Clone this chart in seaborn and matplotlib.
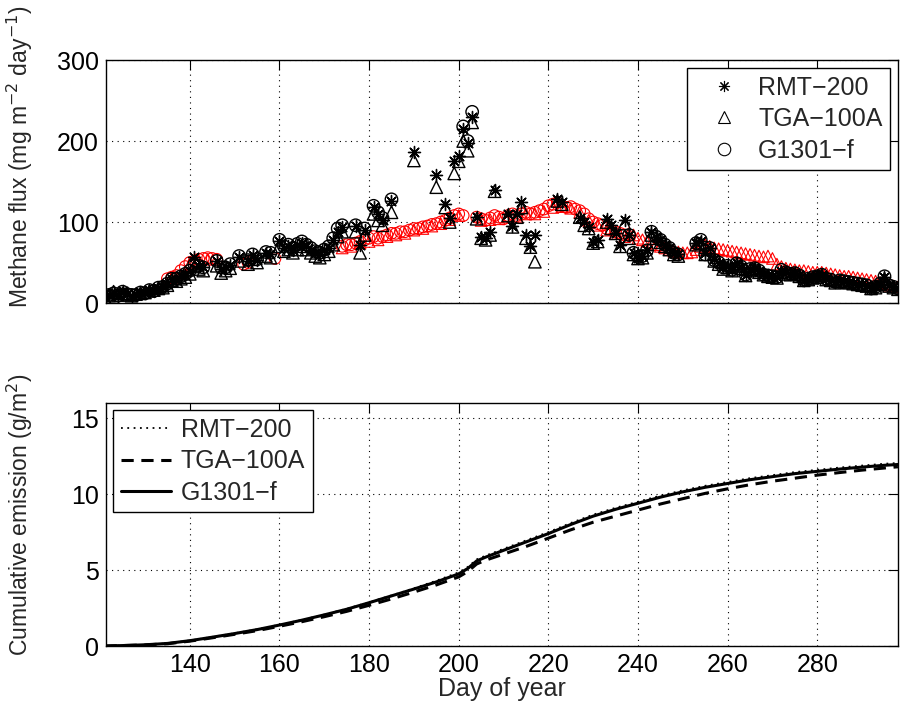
import numpy as np
import pandas as pd
import matplotlib
matplotlib.use("Agg")
import matplotlib.pyplot as plt
from matplotlib.lines import Line2D
import seaborn as sns

sns.set_theme(style="white")
plt.rcParams['font.family'] = ['Liberation Sans', 'DejaVu Sans']

nan = np.nan
# ---------------- measured (black) daily flux, mg m-2 day-1 ----------------
meas_day = [121, 122, 123, 124, 125, 126, 127, 128, 129, 130, 131, 132, 133, 134, 135, 136, 137, 138, 139, 140,
            141, 142, 143, 146, 147, 148, 149, 151, 153, 154, 155, 157, 158, 160, 161, 162, 163, 164, 165, 166,
            167, 168, 169, 170, 171, 172, 173, 174, 177, 178, 179, 181, 182, 183, 185, 190, 195, 197, 198, 199,
            200, 201, 202, 203, 204, 205, 206, 207, 208, 211, 212, 213, 214, 215, 216, 217, 222, 223, 227, 228,
            229, 230, 231, 233, 234, 235, 236, 237, 238, 239, 240, 241, 242, 243, 244, 245, 246, 247, 248, 249,
            253, 254, 255, 256, 257, 258, 259, 260, 261, 262, 263, 264, 265, 266, 267, 268, 269, 270, 271, 272,
            273, 274, 275, 276, 277, 278, 279, 280, 281, 282, 283, 284, 285, 286, 287, 288, 289, 290, 291, 292,
            293, 294, 295, 296, 297, 298]
rmt_meas = [8, 10, 12, 9, 15, 11, 9, 10, 13, 12, 16, 15, 19, 20, 24, 30, 29, 33, 35, 40,
            57, 46, 44, 52, 42, 44, 47, 57, 52, 59, 53, 62, 60, 76, 68, 70, 66, 72, 74, 70,
            66, 62, 60, 65, 68, 78, 88, 94, 95, 72, 90, 118, 110, 103, 126, 186, 158, 122, 105, 175,
            182, 215, 198, 230, 106, 82, 80, 88, 140, 110, 95, 110, 125, 84, 70, 84, 128, 125, 105, 100,
            94, 75, 78, 104, 96, 86, 72, 102, 84, 62, 56, 58, 65, 88, 82, 78, 72, 68, 62, 60,
            74, 76, 62, 68, 54, 50, 44, 46, 41, 49, 45, 35, 42, 43, 40, 36, 34, 33, 32, 40,
            38, 36, 37, 34, 29, 30, 32, 33, 35, 30, 29, 26, 28, 27, 26, 25, 24, 23, 22, 19,
            20, 24, 32, 22, 20, 18]
tga_meas = [7, 9, 14, 10, 12, 10, 9, 11, 12, 13, 15, 16, 18, 19, 22, 28, 27, 30, 32, 36,
            45, 42, 40, 46, 37, 40, 43, 52, 48, 54, 50, 58, 56, 70, 64, 66, 62, 66, 70, 66,
            62, 58, 56, 60, 64, 72, 82, 88, 88, 62, 84, 110, 102, 96, 112, 176, 143, 118, 100, 160,
            175, 200, 188, 223, 104, 80, 78, 84, 138, 108, 94, 106, 118, 80, 69, 51, 126, 122, 106, 96,
            92, 74, 76, 100, 92, 86, 70, 98, 80, 60, 55, 56, 62, 84, 80, 75, 70, 66, 60, 58,
            72, 74, 60, 66, 52, 48, 42, 44, 40, 47, 43, 34, 40, 42, 38, 35, 33, 32, 31, 38,
            36, 35, 36, 33, 28, 29, 31, 32, 34, 29, 28, 25, 27, 26, 25, 24, 23, 22, 21, 18,
            19, 23, 30, 21, 19, 17]
g_meas = [9, 10, 12, 9, 14, 11, 10, 10, 13, 12, 16, 15, 19, 20, 24, 30, 30, 33, 36, 40,
          48, 46, 44, 52, 44, 44, 48, 58, 53, 60, 54, 63, 62, 78, 70, 72, 68, 73, 76, 72,
          68, 64, 62, 66, 70, 80, 92, 96, 96, nan, 92, 120, 112, 105, 128, nan, nan, nan, nan, nan,
          nan, 218, 200, 236, nan, nan, nan, nan, nan, nan, nan, nan, nan, nan, nan, nan, nan, nan, nan, nan,
          nan, nan, nan, nan, nan, nan, nan, nan, 84, 62, 57, 58, 65, 88, 82, 78, 72, 68, 62, 60,
          74, 78, 60, 68, 53, 50, 44, 46, 41, 49, 45, 35, 42, 43, 40, 35, 34, 33, 32, 41,
          38, 36, 37, 34, 28, 30, 32, 33, 35, 30, 29, 26, 28, 27, 26, 25, 24, 23, 22, 18,
          20, 24, 33, 22, 20, 18]

# ---------------- gap-filled (red) flux ----------------
gf_day_g = [135, 136, 137, 138, 139, 140, 141, 142, 143, 144, 145, 146, 152, 153, 159,
            174, 175, 176, 177, 178, 179, 180, 181, 182, 183, 184, 185, 186, 187, 188, 189, 190,
            191, 192, 193, 194, 195, 196, 197, 198, 199, 200, 201,
            204, 205, 206, 207, 208, 209, 210, 211, 212, 213, 214, 215, 216, 217, 218, 219, 220,
            221, 222, 223, 224, 225, 226, 227, 228, 229, 230, 231, 232, 233, 234, 235, 236, 237]
gf_g = [30, 32, 34, 40, 45, 50, 52, 54, 55, 56, 55, 54, 48, 50, 55,
        70, 72, 72, 74, 76, 78, 80, 82, 80, 82, 84, 86, 86, 88, 88, 90, 92,
        92, 94, 95, 97, 98, 100, 102, 105, 108, 110, 108,
        106, 104, 102, 105, 108, 106, 104, 108, 110, 108, 110, 112, 110, 112, 114, 116, 120,
        122, 124, 120, 118, 119, 116, 114, 110, 104, 100, 98, 96, 92, 90, 88, 86, 84]
gf_day_t = [136, 140, 142, 144, 174, 176, 178, 180, 182, 184, 186, 188, 190, 192, 194, 196, 198, 200,
            205, 207, 209, 211, 213, 215, 217, 219, 221, 223, 225, 227, 229, 231, 233, 235, 237,
            238, 239, 240, 241, 242, 243, 244, 245, 246, 247, 248, 249, 250, 251, 252, 253, 254, 255,
            256, 257, 258, 259, 260, 261, 262, 263, 264, 265, 266, 267, 268, 269, 270, 271, 272, 273,
            274, 275, 276, 277, 278, 279, 280, 281, 282, 283, 284, 285, 286, 287, 288, 289, 290, 291,
            292, 293, 294, 295, 296, 297, 298]
gf_t = [30, 48, 52, 54, 68, 70, 74, 76, 78, 82, 84, 86, 90, 92, 95, 98, 103, 108,
        102, 103, 104, 106, 107, 110, 110, 113, 118, 119, 117, 112, 102, 96, 90, 86, 82,
        86, 84, 80, 78, 76, 74, 72, 70, 68, 66, 64, 63, 62, 62, 63, 66, 70, 72,
        70, 68, 67, 66, 65, 64, 63, 62, 61, 60, 59, 58, 57, 58, 55, 48, 45, 43,
        42, 41, 40, 40, 39, 38, 38, 38, 37, 36, 35, 34, 33, 33, 32, 31, 30, 29,
        28, 27, 25, 24, 22, 21, 20]

# ---------------- cumulative emission, g m-2 ----------------
cum_day = [121, 125, 130, 135, 140, 145, 150, 155, 160, 165, 170, 175, 180, 185, 190, 195, 200, 202, 204, 206,
           210, 215, 220, 225, 230, 235, 240, 245, 250, 255, 260, 265, 270, 275, 280, 285, 290, 295, 298]
cum_rmt = [0, 0.03, 0.08, 0.17, 0.36, 0.6, 0.84, 1.1, 1.4, 1.72, 2.07, 2.45, 2.88, 3.33, 3.8, 4.3, 4.85, 5.2, 5.7, 5.95,
           6.4, 6.95, 7.5, 8.1, 8.65, 9.1, 9.5, 9.9, 10.25, 10.55, 10.8, 11.05, 11.25, 11.45, 11.6, 11.75, 11.88, 12.0, 12.05]
cum_tga = [0, 0.03, 0.07, 0.15, 0.32, 0.54, 0.77, 1.01, 1.3, 1.6, 1.93, 2.28, 2.68, 3.1, 3.55, 4.02, 4.55, 4.9, 5.4, 5.65,
           6.05, 6.55, 7.1, 7.65, 8.15, 8.55, 8.95, 9.35, 9.7, 10.05, 10.35, 10.62, 10.85, 11.05, 11.25, 11.42, 11.58, 11.72, 11.8]
cum_g = [0, 0.03, 0.08, 0.17, 0.35, 0.58, 0.82, 1.08, 1.38, 1.7, 2.05, 2.42, 2.85, 3.3, 3.75, 4.22, 4.75, 5.1, 5.6, 5.85,
         6.3, 6.85, 7.4, 8.0, 8.55, 9.0, 9.4, 9.8, 10.15, 10.45, 10.7, 10.95, 11.15, 11.35, 11.5, 11.65, 11.78, 11.9, 11.95]

names = ["RMT\u2212200", "TGA\u2212100A", "G1301\u2212f"]
x_ticks = [140, 160, 180, 200, 220, 240, 260, 280]

FS = 18
FSY = 16.5
fig = plt.figure(figsize=(9.02, 7.11), dpi=100)
ax1 = fig.add_axes([0.1175, 0.5738, 0.878, 0.3418])
ax2 = fig.add_axes([0.1175, 0.0914, 0.878, 0.3418])

ast = (8, 2, 0)
dm = pd.DataFrame({"day": meas_day, "rmt": rmt_meas, "tga": tga_meas, "g": g_meas})
dg = pd.DataFrame({"day": gf_day_g, "v": gf_g})
dt = pd.DataFrame({"day": gf_day_t, "v": gf_t})

sns.scatterplot(data=dg, x="day", y="v", marker="o", s=70, facecolors="none", edgecolor="red",
                linewidth=0.8, ax=ax1, zorder=3)
sns.scatterplot(data=dt, x="day", y="v", marker="^", s=70, facecolors="none", edgecolor="red",
                linewidth=0.8, ax=ax1, zorder=3)
sns.scatterplot(data=dm, x="day", y="tga", marker="^", s=80, facecolors="none", edgecolor="black",
                linewidth=1.0, ax=ax1, zorder=4)
sns.scatterplot(data=dm, x="day", y="g", marker="o", s=80, facecolors="none", edgecolor="black",
                linewidth=1.0, ax=ax1, zorder=4)
sns.scatterplot(data=dm, x="day", y="rmt", marker=ast, s=75, color="black", edgecolor="black",
                linewidth=1.0, ax=ax1, zorder=5)

dc = pd.DataFrame({"day": cum_day, "rmt": cum_rmt, "tga": cum_tga, "g": cum_g})
sns.lineplot(data=dc, x="day", y="rmt", color="black", linestyle=(0, (1, 2.5)), linewidth=1.3, ax=ax2)
sns.lineplot(data=dc, x="day", y="tga", color="black", linestyle=(0, (4, 2.5)), linewidth=2.2, ax=ax2)
sns.lineplot(data=dc, x="day", y="g", color="black", linestyle="-", linewidth=2.2, ax=ax2)

for ax in (ax1, ax2):
    ax.set_xlim(121.3, 298)
    ax.set_xticks(x_ticks)
    ax.grid(True, color="black", linestyle=(0, (1, 4)), linewidth=0.8)
    ax.tick_params(direction="in", length=7, width=0.8, top=True, right=True,
                   labelsize=FS, colors="black", pad=5)
    for sp in ax.spines.values():
        sp.set_color("black")
        sp.set_linewidth(1.0)
    ax.set_axisbelow(True)

ax1.set_ylim(0, 300)
ax1.set_yticks([0, 100, 200, 300])
ax1.set_xticklabels([])
ax1.set_xlabel("")
ax1.set_ylabel("Methane flux (mg m$^{-2}$ day$^{-1}$)", fontsize=FSY)
ax1.yaxis.set_label_coords(-0.09, 0.6)

ax2.set_ylim(0, 16)
ax2.set_yticks([0, 5, 10, 15])
ax2.set_xlabel("Day of year", fontsize=FS, labelpad=0)
ax2.set_ylabel("Cumulative emission (g/m$^2$)", fontsize=FSY)
ax2.yaxis.set_label_coords(-0.09, 0.54)

h1 = [Line2D([], [], linestyle="none", marker=ast, markersize=8, color="black", markeredgewidth=0.8),
      Line2D([], [], linestyle="none", marker="^", markersize=9, markerfacecolor="none",
             markeredgecolor="black", markeredgewidth=0.8),
      Line2D([], [], linestyle="none", marker="o", markersize=9, markerfacecolor="none",
             markeredgecolor="black", markeredgewidth=0.8)]
leg1 = ax1.legend(h1, names, loc="upper right", fontsize=FS, frameon=True, fancybox=False,
                  edgecolor="black", framealpha=1, borderaxespad=0.32, handletextpad=0.15,
                  labelspacing=0.3, borderpad=0.3, handlelength=2.4)
leg1.get_frame().set_linewidth(1.0)

h2 = [Line2D([], [], color="black", linestyle=(0, (1, 2.5)), linewidth=1.3),
      Line2D([], [], color="black", linestyle=(0, (4, 2.5)), linewidth=2.2),
      Line2D([], [], color="black", linestyle="-", linewidth=2.2)]
leg2 = ax2.legend(h2, names, loc="upper left", fontsize=FS, frameon=True, fancybox=False,
                  edgecolor="black", framealpha=1, borderaxespad=0.3, handletextpad=0.4,
                  labelspacing=0.3, borderpad=0.3, handlelength=2.0)
leg2.get_frame().set_linewidth(1.0)

fig.savefig("out.png", dpi=100)
